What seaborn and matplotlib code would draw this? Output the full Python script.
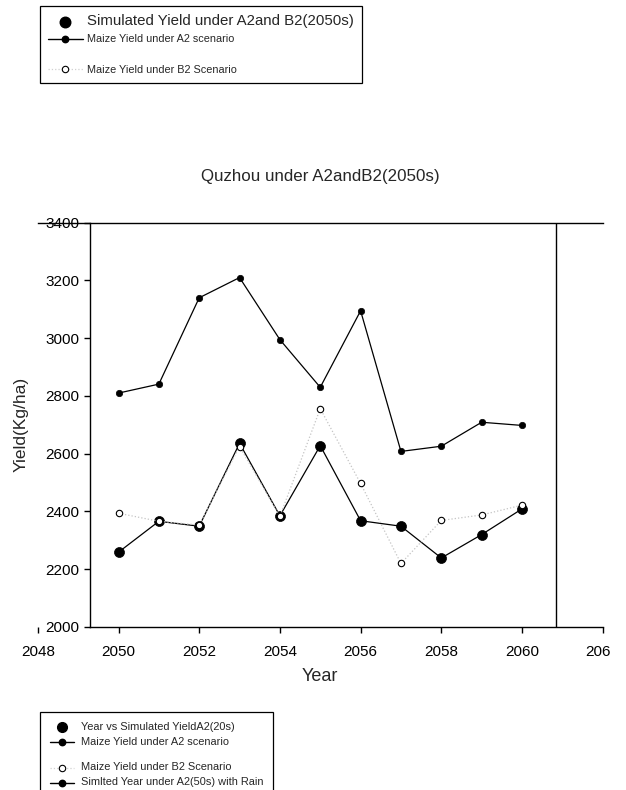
import matplotlib
matplotlib.use("Agg")
import matplotlib.pyplot as plt
from matplotlib.lines import Line2D
from matplotlib.transforms import Bbox, TransformedBbox
import pandas as pd
import seaborn as sns

# ---------------- data ----------------
years = [2050, 2051, 2052, 2053, 2054, 2055, 2056, 2057, 2058, 2059, 2060]
a2_yield = [2810, 2841, 3140, 3210, 2995, 2830, 3095, 2608, 2626, 2709, 2698]
sim_yield = [2259, 2366, 2349, 2636, 2385, 2628, 2368, 2349, 2239, 2320, 2409]
b2_yield = [2394, 2366, 2353, 2625, 2383, 2756, 2497, 2220, 2369, 2388, 2422]

x_ticks = [2048, 2050, 2052, 2054, 2056, 2058, 2060, 2062]
y_ticks = [2000, 2200, 2400, 2600, 2800, 3000, 3200, 3400]

title = "Quzhou under A2andB2(2050s)"
x_label = "Year"
y_label = "Yield(Kg/ha)"
top_legend_labels = ["Simulated Yield under A2and B2(2050s)",
                     "Maize Yield under A2 scenario",
                     "Maize Yield under B2 Scenario"]
bottom_legend_labels = ["Year vs Simulated YieldA2(20s)",
                        "Maize Yield under A2 scenario",
                        "Maize Yield under B2 Scenario",
                        "Simlted Year under A2(50s) with Rain"]

# ---------------- style ----------------
sns.set_style("white")
plt.rcParams["font.family"] = ["Liberation Sans", "DejaVu Sans"]

df = pd.DataFrame({"year": years, "a2": a2_yield, "sim": sim_yield, "b2": b2_yield})

W, H = 626, 790
fig = plt.figure(figsize=(W / 100, H / 100), dpi=100, facecolor="white")
ax = fig.add_axes([37.8 / W, (H - 627) / H, 564.9 / W, 404.3 / H])

# A2 scenario: small filled dots with solid line
sns.lineplot(data=df, x="year", y="a2", ax=ax, color="black", linewidth=0.9,
             marker="o", markersize=4.6, markerfacecolor="black",
             markeredgecolor="black", markeredgewidth=0.5, zorder=3)
# Simulated yield: big filled dots with solid line
sns.lineplot(data=df, x="year", y="sim", ax=ax, color="black", linewidth=0.9,
             marker="o", markersize=7.2, markerfacecolor="black",
             markeredgecolor="black", markeredgewidth=0.5, zorder=3)
# B2 scenario: open circles with faint dotted line
sns.lineplot(data=df, x="year", y="b2", ax=ax, color="#c4c4c4", linewidth=0.9,
             linestyle=":", marker="o", markersize=4.6, markerfacecolor="white",
             markeredgecolor="black", markeredgewidth=0.8, zorder=4)

ax.set_xlim(2048, 2062)
ax.set_ylim(2000, 3400)
ax.set_xticks(x_ticks)
ax.set_yticks(y_ticks)
ax.set_xticklabels([str(v) for v in x_ticks])
ax.set_yticklabels([str(v) for v in y_ticks])

left_pos = 2049.29
ax.spines["left"].set_position(("data", left_pos))
ax.spines["right"].set_visible(False)
for s in ["left", "top", "bottom"]:
    ax.spines[s].set_color("black")
    ax.spines[s].set_linewidth(1.0)
ax.spines["bottom"].set_bounds(left_pos, 2062)
ax.axvline(2060.84, color="black", linewidth=1.0, zorder=2)

ax.tick_params(axis="x", which="both", direction="out", length=4, width=1.0,
               pad=8.9, labelsize=11, colors="black", bottom=True, top=False)
ax.tick_params(axis="y", which="both", direction="out", length=4, width=1.0,
               pad=3.5, labelsize=11, colors="black", left=True, right=False)

ax.set_xlabel(x_label, fontsize=13)
ax.set_ylabel(y_label, fontsize=12.5)
ax.xaxis.set_label_coords(0.5, -0.102)
ax.yaxis.set_label_coords(-0.016, 0.5)
ax.set_title(title, fontsize=12.2, y=1.104, pad=0)

# ---------------- legends ----------------
big_dot = Line2D([], [], linestyle="none", marker="o", color="black", markersize=7.6)
big_dot2 = Line2D([], [], linestyle="none", marker="o", color="black", markersize=7.0)
line_dot = Line2D([], [], color="black", linewidth=1.0, marker="o", markersize=4.6)
open_dot = Line2D([], [], color="#d0d0d0", linewidth=0.9, linestyle=":", marker="o",
                  markersize=4.6, markerfacecolor="white", markeredgecolor="black",
                  markeredgewidth=0.8)
blank = Line2D([], [], linestyle="none")

top_handles = [big_dot, line_dot, blank, open_dot]
top_labels = [top_legend_labels[0], top_legend_labels[1], " ", top_legend_labels[2]]
leg1 = fig.legend(top_handles, top_labels, loc="upper left",
                  bbox_to_anchor=(40 / W, 1 - 6 / H), bbox_transform=fig.transFigure,
                  borderaxespad=0, fontsize=7.8, frameon=True, fancybox=False,
                  edgecolor="black", framealpha=1, handlelength=3.2,
                  handletextpad=0.43, borderpad=0.75, labelspacing=0.585,
                  handleheight=0.4)
leg1.get_frame().set_linewidth(0.9)
t1 = leg1.get_texts()
t1[0].set_fontsize(10.8)
t1[2].set_fontsize(3.2)

bottom_handles = [big_dot2, line_dot, blank, open_dot, line_dot]
bottom_labels = [bottom_legend_labels[0], bottom_legend_labels[1], " ",
                 bottom_legend_labels[2], bottom_legend_labels[3]]
leg2 = fig.legend(bottom_handles, bottom_labels, loc="upper left",
                  bbox_to_anchor=(40 / W, 1 - 712 / H), bbox_transform=fig.transFigure,
                  borderaxespad=0, fontsize=7.9, frameon=True, fancybox=False,
                  edgecolor="black", framealpha=1, handlelength=2.2,
                  handletextpad=0.6, borderpad=0.92, labelspacing=0.45,
                  handleheight=0.05)
leg2.get_frame().set_linewidth(0.9)
leg2.get_texts()[2].set_fontsize(0.5)

# clip the last x tick label at the picture edge as in the reference
fig.canvas.draw()
clip = TransformedBbox(Bbox([[0, 0], [611 / W, 1]]), fig.transFigure)
for t in ax.get_xticklabels():
    t.set_clip_box(clip)
    t.set_clip_on(True)

fig.savefig("out.png", dpi=100, facecolor="white")
